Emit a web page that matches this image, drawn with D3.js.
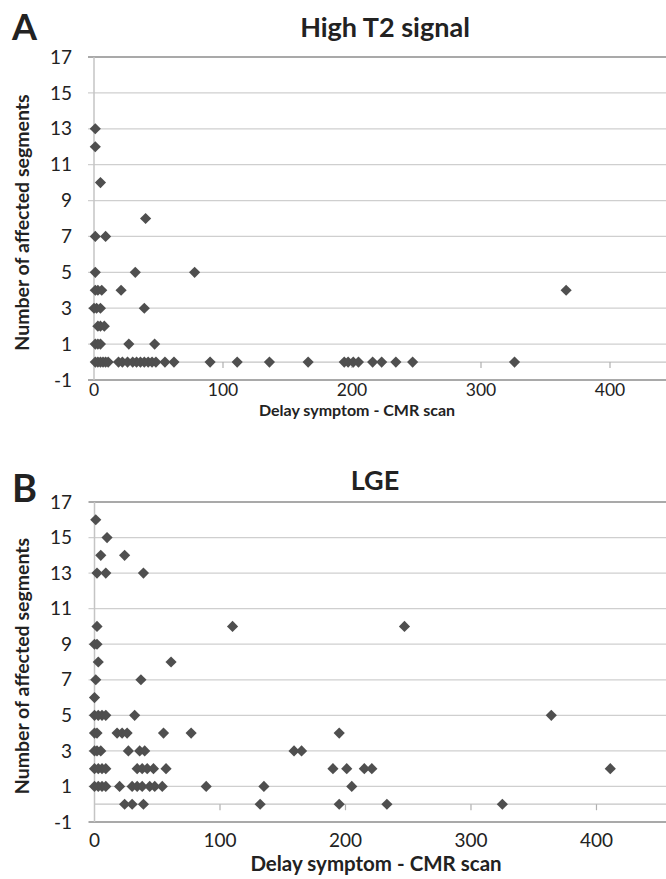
<!DOCTYPE html>
<html>
<head>
<meta charset="utf-8">
<script src="https://cdn.jsdelivr.net/npm/d3@7"></script>
<style>
  body { margin: 0; background: #fff; }
  text { font-family: Lato, "Open Sans", sans-serif; fill: #222; }
</style>
</head>
<body>
<div id="chart"></div>
<script>
// values: delay (days) and number of affected segments
const t2Delay = [1, 1, 5, 40, 1, 9, 1, 32, 78, 1, 3, 6, 21, 366, 0, 2, 5, 39,
  3, 5, 8, 1, 3, 5, 27, 47,
  1, 3, 5, 7, 9, 11, 19, 22, 26, 30, 33, 36, 39, 42, 45, 48, 55, 62, 90, 111,
  136, 166, 194, 197, 201, 205, 216, 223, 234, 247, 326];
const t2Segments = [13, 12, 10, 8, 7, 7, 5, 5, 5, 4, 4, 4, 4, 4, 3, 3, 3, 3,
  2, 2, 2, 1, 1, 1, 1, 1,
  0, 0, 0, 0, 0, 0, 0, 0, 0, 0, 0, 0, 0, 0, 0, 0, 0, 0, 0, 0,
  0, 0, 0, 0, 0, 0, 0, 0, 0, 0, 0];

const lgeDelay = [1, 10, 5, 24, 2, 9, 39, 2, 110, 247, 0, 2, 3, 61, 1, 37, 0,
  0, 3, 6, 9, 32, 364,
  0, 2, 18, 22, 26, 55, 77, 195,
  0, 2, 5, 27, 36, 40, 159, 165,
  0, 3, 6, 9, 34, 38, 42, 47, 57, 190, 201, 215, 221, 411,
  0, 3, 6, 9, 20, 30, 34, 38, 44, 48, 54, 89, 135, 205,
  24, 30, 39, 132, 195, 233, 325];
const lgeSegments = [16, 15, 14, 14, 13, 13, 13, 10, 10, 10, 9, 9, 8, 8, 7, 7, 6,
  5, 5, 5, 5, 5, 5,
  4, 4, 4, 4, 4, 4, 4, 4,
  3, 3, 3, 3, 3, 3, 3, 3,
  2, 2, 2, 2, 2, 2, 2, 2, 2, 2, 2, 2, 2, 2,
  1, 1, 1, 1, 1, 1, 1, 1, 1, 1, 1, 1, 1, 1,
  0, 0, 0, 0, 0, 0, 0];

const yTicks = [-1, 1, 3, 5, 7, 9, 11, 13, 15, 17];
const xTicks = [0, 100, 200, 300, 400];

const width = 666, height = 879;
const svg = d3.select("#chart").append("svg")
  .attr("width", width).attr("height", height);

// excel style diamond
const diamond = {
  draw(ctx, size) {
    const r = Math.sqrt(size) / 2;
    ctx.moveTo(0, -r); ctx.lineTo(r, 0); ctx.lineTo(0, r); ctx.lineTo(-r, 0); ctx.closePath();
  }
};

function drawPanel(opt) {
  const x = d3.scaleLinear().domain([0, opt.xMax]).range([opt.left, opt.right]);
  const y = d3.scaleLinear().domain([-1, 17]).range([opt.bottom, opt.top]);
  const g = svg.append("g");

  // gridlines
  g.selectAll("line.grid").data(yTicks).enter().append("line")
    .attr("x1", opt.left - 6).attr("x2", width)
    .attr("y1", d => y(d)).attr("y2", d => y(d))
    .attr("stroke", d => (d === 17 || d === -1) ? "#8c8c8c" : "#cfcfcf")
    .attr("stroke-width", d => (d === 17 || d === -1) ? 1.6 : 1.3);

  // vertical axis
  g.append("line")
    .attr("x1", opt.left).attr("x2", opt.left)
    .attr("y1", opt.top).attr("y2", opt.bottom)
    .attr("stroke", "#c4c4c4").attr("stroke-width", 1.5);

  // horizontal axis crosses at 0
  g.append("line")
    .attr("x1", opt.left).attr("x2", width)
    .attr("y1", y(0)).attr("y2", y(0))
    .attr("stroke", "#c4c4c4").attr("stroke-width", 1.3);
  g.selectAll("line.xtick").data(xTicks.slice(1)).enter().append("line")
    .attr("x1", d => x(d)).attr("x2", d => x(d))
    .attr("y1", y(0)).attr("y2", y(0) + 6)
    .attr("stroke", "#b0b0b0").attr("stroke-width", 1.2);

  // tick labels
  g.selectAll("text.ylab").data(yTicks).enter().append("text")
    .attr("x", 72).attr("y", d => y(d)).attr("dy", "0.35em")
    .attr("text-anchor", "end").style("font-size", "19px")
    .text(d => d);
  g.selectAll("text.xlab").data(xTicks).enter().append("text")
    .attr("x", d => x(d)).attr("y", opt.tickY)
    .attr("text-anchor", "middle").style("font-size", opt.tickSize)
    .text(d => d);

  // points
  const pts = opt.xs.map((d, i) => [d, opt.ys[i]]);
  g.selectAll("path.pt").data(pts).enter().append("path")
    .attr("d", d3.symbol().type(diamond).size(125))
    .attr("transform", d => `translate(${x(d[0])},${y(d[1])})`)
    .attr("fill", "#4f4f4f");

  // titles and labels
  g.append("text").attr("x", opt.titleX).attr("y", opt.titleY)
    .attr("text-anchor", "middle").style("font-size", "27px").style("font-weight", "bold")
    .text(opt.title);
  g.append("text").attr("x", 12).attr("y", opt.letterY)
    .style("font-size", opt.letterSize).style("font-weight", "bold")
    .text(opt.letter);
  g.append("text")
    .attr("transform", `translate(29,${(opt.top + opt.bottom) / 2 + 4}) rotate(-90)`)
    .attr("text-anchor", "middle").style("font-size", "19.5px").style("font-weight", "bold")
    .text("Number of affected segments");
  g.append("text").attr("x", opt.xLabelX).attr("y", opt.xLabelY)
    .attr("text-anchor", "middle").style("font-size", opt.xLabelSize).style("font-weight", "bold")
    .text("Delay symptom - CMR scan");
}

drawPanel({
  xs: t2Delay, ys: t2Segments, xMax: 440,
  left: 94, right: 661.6, top: 57, bottom: 380,
  tickY: 396, tickSize: "17.5px",
  title: "High T2 signal", titleX: 385, titleY: 37,
  letter: "A", letterY: 40, letterSize: "36px",
  xLabelX: 357, xLabelY: 416, xLabelSize: "16px"
});

drawPanel({
  xs: lgeDelay, ys: lgeSegments, xMax: 455,
  left: 94.5, right: 665.5, top: 502, bottom: 822,
  tickY: 847, tickSize: "19px",
  title: "LGE", titleX: 375, titleY: 490,
  letter: "B", letterY: 502, letterSize: "38px",
  xLabelX: 376, xLabelY: 871, xLabelSize: "20.5px"
});
</script>
</body>
</html>
